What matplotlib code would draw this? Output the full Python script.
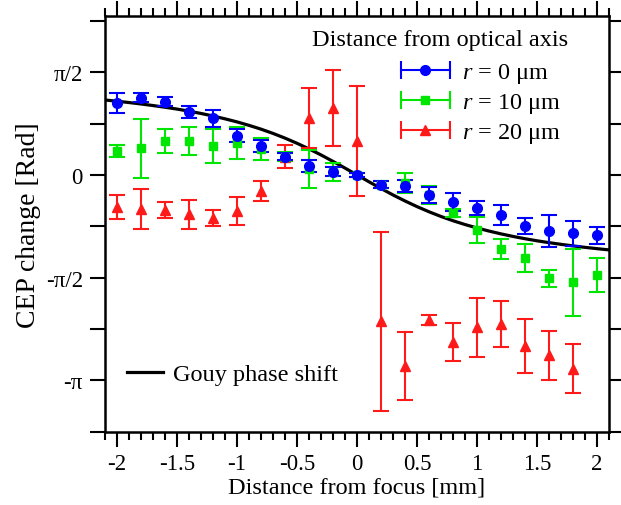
import numpy as np
import matplotlib
matplotlib.use('Agg')
import matplotlib.pyplot as plt
from matplotlib.lines import Line2D
from matplotlib.legend_handler import HandlerLine2D

plt.rcParams['font.family'] = ['Liberation Serif', 'DejaVu Serif']
plt.rcParams['mathtext.fontset'] = 'custom'
plt.rcParams['mathtext.rm'] = 'Liberation Serif'
plt.rcParams['mathtext.it'] = 'Liberation Serif:italic'

# distance from focus [mm]
z = [-2.0, -1.8, -1.6, -1.4, -1.2, -1.0, -0.8, -0.6, -0.4, -0.2, 0.0,
     0.2, 0.4, 0.6, 0.8, 1.0, 1.2, 1.4, 1.6, 1.8, 2.0]

# r = 0 um
cep_r0 = [1.10, 1.18, 1.12, 0.96, 0.87, 0.60, 0.44, 0.28, 0.14, 0.05, 0.00,
          -0.15, -0.17, -0.31, -0.41, -0.51, -0.61, -0.78, -0.86, -0.89, -0.92]
err_r0 = [0.16, 0.07, 0.07, 0.09, 0.13, 0.10, 0.09, 0.05, 0.09, 0.07, 0.03,
          0.05, 0.09, 0.12, 0.14, 0.11, 0.15, 0.12, 0.24, 0.19, 0.13]

# r = 10 um
cep_r10 = [0.37, 0.41, 0.52, 0.52, 0.44, 0.49, 0.40, 0.28, 0.09, 0.05, 0.00,
           -0.15, -0.12, -0.31, -0.58, -0.84, -1.13, -1.27, -1.58, -1.64, -1.53]
err_r10 = [0.09, 0.45, 0.18, 0.21, 0.26, 0.25, 0.17, 0.07, 0.29, 0.14, 0.03,
           0.05, 0.15, 0.14, 0.06, 0.20, 0.15, 0.22, 0.13, 0.51, 0.26]

# r = 20 um (no point at 2.0 mm)
z_r20 = z[:-1]
cep_r20 = [-0.49, -0.52, -0.54, -0.60, -0.66, -0.55, -0.25, 0.28, 0.87, 1.03, 0.52,
           -2.24, -2.92, -2.22, -2.56, -2.33, -2.28, -2.62, -2.76, -2.96]
err_r20 = [0.19, 0.30, 0.12, 0.22, 0.12, 0.22, 0.15, 0.18, 0.46, 0.58, 0.84,
           1.37, 0.52, 0.08, 0.29, 0.45, 0.35, 0.41, 0.37, 0.38]

# Gouy phase shift curve
z_gouy = [-2.1, -2.0, -1.9, -1.8, -1.7, -1.6, -1.5, -1.4, -1.3, -1.2, -1.1,
          -1.0, -0.9, -0.8, -0.7, -0.6, -0.5, -0.4, -0.3, -0.2, -0.1, 0.0,
          0.1, 0.2, 0.3, 0.4, 0.5, 0.6, 0.7, 0.8, 0.9, 1.0, 1.1,
          1.2, 1.3, 1.4, 1.5, 1.6, 1.7, 1.8, 1.9, 2.0, 2.1]
gouy = [1.146, 1.127, 1.107, 1.085, 1.061, 1.035, 1.007, 0.975, 0.940, 0.901, 0.858,
        0.811, 0.758, 0.700, 0.635, 0.563, 0.484, 0.398, 0.306, 0.207, 0.105, 0.0,
        -0.105, -0.207, -0.306, -0.398, -0.484, -0.563, -0.635, -0.700, -0.758, -0.811, -0.858,
        -0.901, -0.940, -0.975, -1.007, -1.035, -1.061, -1.085, -1.107, -1.127, -1.146]

blue = '#0000ff'
green = '#00e600'
red = '#ff1a1a'

fig = plt.figure(figsize=(6.21, 5.06), dpi=100)
ax = fig.add_axes([105 / 621, 73 / 506, 504 / 621, 416 / 506])

gouy_line, = ax.plot(z_gouy, gouy, color='black', lw=2.3, zorder=1)

eb_kw = dict(capsize=5.5, elinewidth=1.5, capthick=1.5, lw=0, zorder=2)
ax.errorbar(z_r20, cep_r20, yerr=err_r20, fmt='^', color=red, ms=7.5, **eb_kw)
ax.errorbar(z, cep_r10, yerr=err_r10, fmt='s', color=green, ms=6, **eb_kw)
ax.errorbar(z, cep_r0, yerr=err_r0, fmt='o', color=blue, ms=7, **eb_kw)

ax.set_xlim(-2.1, 2.1)
ax.set_ylim(-3.93, 2.43)

ax.set_xticks([-2, -1.5, -1, -0.5, 0, 0.5, 1, 1.5, 2])
ax.set_xticklabels(['-2', '-1.5', '-1', '-0.5', '0', '0.5', '1', '1.5', '2'])
ax.set_xticks(np.arange(-2.1, 2.11, 0.1), minor=True)
ax.set_yticks([np.pi / 2, 0, -np.pi / 2, -np.pi])
ax.set_yticklabels(['π/2', '0', '-π/2', '-π'])
ax.set_yticks([3 * np.pi / 4, np.pi / 4, -np.pi / 4, -3 * np.pi / 4,
               -5 * np.pi / 4], minor=True)

ax.tick_params(axis='both', which='both', direction='out', width=1.5,
               top=True, right=True, labelsize=16.5)
ax.tick_params(axis='x', which='major', length=11, pad=4)
ax.tick_params(axis='x', which='minor', length=6)
ax.tick_params(axis='y', which='both', length=11, pad=5)
for sp in ax.spines.values():
    sp.set_linewidth(1.8)

ax.set_xlabel('Distance from focus [mm]', fontsize=17.5, labelpad=2)
ax.set_ylabel('CEP change [Rad]', fontsize=20, labelpad=3)


def r_handle(color, marker, ms):
    pt = Line2D([], [], color=color, marker=marker, ms=ms, lw=1.5)
    cap = Line2D([], [], color=color, marker='|', ms=13, mew=1.5, ls='none')
    return (pt, cap)


ax.text(0.9187, 0.9447, 'Distance from optical axis', transform=ax.transAxes,
        ha='right', va='center', fontsize=17.5)

handles = [r_handle(blue, 'o', 7), r_handle(green, 's', 6), r_handle(red, '^', 7.5)]
hmap = {h[1]: HandlerLine2D(numpoints=2, marker_pad=0) for h in handles}
leg = ax.legend(handles, ['$r$ = 0 μm', '$r$ = 10 μm', '$r$ = 20 μm'],
                handler_map=hmap, fontsize=17.5, frameon=False,
                loc='upper right', bbox_to_anchor=(0.948, 0.944),
                handlelength=2.0, labelspacing=0.25, handletextpad=0.5)
ax.add_artist(leg)

ax.legend([gouy_line], ['Gouy phase shift'], fontsize=17.5, frameon=False,
          loc='lower left', bbox_to_anchor=(0.0, 0.06), handlelength=1.5,
          handletextpad=0.4)

fig.savefig('out.png', dpi=100)
